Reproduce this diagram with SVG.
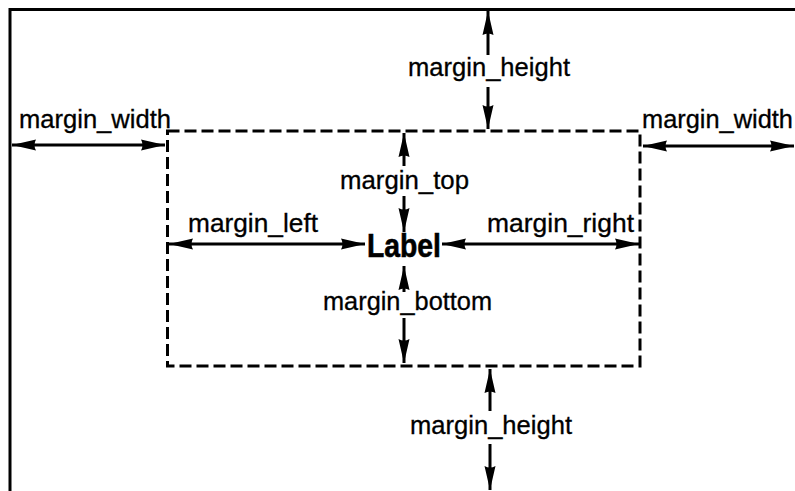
<svg xmlns="http://www.w3.org/2000/svg" width="795" height="491" viewBox="0 0 795 491">
  <defs>
    <style>
      .frame { fill: none; stroke: #000; stroke-width: 3; }
      .dash { fill: none; stroke: #000; stroke-width: 3; stroke-dasharray: 12 5; }
      .arr { stroke: #000; stroke-width: 3; fill: none; }
      .dim { font-family: "Liberation Sans", Arial, Helvetica, sans-serif; font-size: 25px; fill: #000; stroke: #000; stroke-width: 0.3; }
      .lbl { font-family: "Liberation Sans", Arial, Helvetica, sans-serif; font-size: 33px; font-weight: bold; fill: #000; stroke: #000; stroke-width: 0.6; }
    </style>
    <marker id="head" viewBox="0 0 24 12" refX="24" refY="6" markerWidth="24" markerHeight="12" markerUnits="userSpaceOnUse" orient="auto-start-reverse">
      <path d="M0,0.5 L24,6 L0,11.5 Q3,6 0,0.5 Z" fill="#000"/>
    </marker>
  </defs>

  <rect width="795" height="491" fill="#fff"/>

  <!-- outer window edges -->
  <g id="window">
    <path class="frame" d="M10,491 V9.5 H795"/>
  </g>

  <!-- dashed widget outline -->
  <g id="widget">
    <rect class="dash" x="167.5" y="131" width="472.5" height="235"/>
  </g>

  <!-- centred label -->
  <g id="label">
    <text class="lbl" x="404" y="257" text-anchor="middle" textLength="74" lengthAdjust="spacingAndGlyphs">Label</text>
  </g>

  <!-- dimension arrows -->
  <g id="connectors">
    <!-- margin_height (top) -->
    <line class="arr" x1="488" y1="55" x2="488" y2="11" marker-end="url(#head)"/>
    <line class="arr" x1="488" y1="87" x2="488" y2="129" marker-end="url(#head)"/>
    <!-- margin_width (left / right) -->
    <line class="arr" x1="12" y1="145" x2="165" y2="145" marker-start="url(#head)" marker-end="url(#head)"/>
    <line class="arr" x1="643" y1="146" x2="794" y2="146" marker-start="url(#head)" marker-end="url(#head)"/>
    <!-- margin_top -->
    <line class="arr" x1="404" y1="166" x2="404" y2="133" marker-end="url(#head)"/>
    <line class="arr" x1="404" y1="196" x2="404" y2="232" marker-end="url(#head)"/>
    <!-- margin_left / margin_right -->
    <line class="arr" x1="169" y1="244" x2="365" y2="244" marker-start="url(#head)" marker-end="url(#head)"/>
    <line class="arr" x1="442" y1="244" x2="639" y2="244" marker-start="url(#head)" marker-end="url(#head)"/>
    <!-- margin_bottom -->
    <line class="arr" x1="404" y1="292" x2="404" y2="266" marker-end="url(#head)"/>
    <line class="arr" x1="404" y1="318" x2="404" y2="363" marker-end="url(#head)"/>
    <!-- margin_height (bottom) -->
    <line class="arr" x1="490" y1="411" x2="490" y2="369" marker-end="url(#head)"/>
    <line class="arr" x1="490" y1="444" x2="490" y2="490" marker-end="url(#head)"/>
  </g>

  <!-- dimension names -->
  <g id="dimension-labels">
    <text class="dim" x="408" y="76" textLength="162" lengthAdjust="spacingAndGlyphs">margin_height</text>
    <text class="dim" x="19" y="128" textLength="152" lengthAdjust="spacingAndGlyphs">margin_width</text>
    <text class="dim" x="642" y="128" textLength="151" lengthAdjust="spacingAndGlyphs">margin_width</text>
    <text class="dim" x="340" y="189" textLength="129" lengthAdjust="spacingAndGlyphs">margin_top</text>
    <text class="dim" x="188" y="232" textLength="130" lengthAdjust="spacingAndGlyphs">margin_left</text>
    <text class="dim" x="487" y="232" textLength="147" lengthAdjust="spacingAndGlyphs">margin_right</text>
    <text class="dim" x="323" y="310" textLength="169" lengthAdjust="spacingAndGlyphs">margin_bottom</text>
    <text class="dim" x="410" y="434" textLength="162" lengthAdjust="spacingAndGlyphs">margin_height</text>
  </g>
</svg>
